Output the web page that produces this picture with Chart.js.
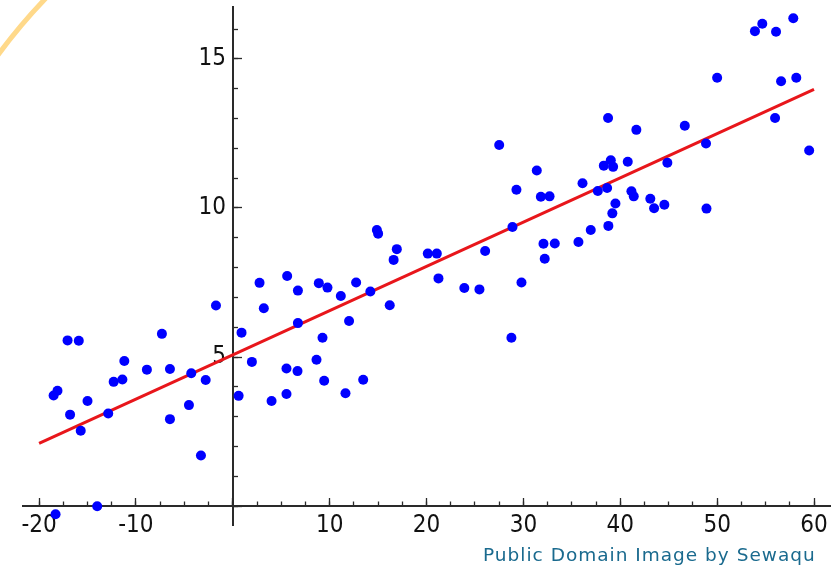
<!DOCTYPE html>
<html>
<head>
<meta charset="utf-8">
<script src="https://cdn.jsdelivr.net/npm/chart.js@4/dist/chart.umd.min.js"></script>
<style>
  body { margin: 0; background: #fff; }
  #wrap { position: relative; width: 833px; height: 569px; overflow: hidden; }
  #credit {
    position: absolute; left: 483px; top: 544px;
    font-family: "DejaVu Sans", sans-serif; font-size: 18.5px; letter-spacing: 1px;
    color: #1a6a8e; white-space: nowrap;
  }
  #deco { position: absolute; left: 0; top: 0; }
</style>
</head>
<body>
<div id="wrap">
  <canvas id="chart" width="833" height="569"></canvas>
  <svg id="deco" width="60" height="60"><path d="M -2 55 Q 20 25 46 -2" stroke="#ffd98a" stroke-width="5" fill="none"/></svg>
  <div id="credit">Public Domain Image by Sewaqu</div>
</div>
<script>
// scatter points
const xs = [-18.5, -18.1, -17.06, -15.9, -16.8, -15.7, -15.0, -18.3, -14.0, -12.86,
  -12.3, -11.4, -11.2, -8.87, -7.32, -6.49, -6.49, -4.53, -4.29, -3.29,
  -2.8, -1.74, 0.6, 0.9, 1.97, 2.76, 3.2, 4.0, 5.54, 5.54,
  5.61, 6.72, 6.72, 6.68, 8.64, 8.88, 9.26, 9.43, 9.77, 11.15,
  11.63, 12.0, 12.73, 13.46, 14.2, 14.87, 15.0, 16.2, 16.6, 16.93,
  20.13, 21.06, 21.23, 23.9, 25.46, 26.05, 27.5, 28.87, 29.28, 29.8,
  28.76, 31.38, 31.8, 32.7, 32.07, 32.2, 33.24, 35.68, 36.1, 36.95,
  37.68, 38.3, 38.74, 38.64, 38.77, 39.02, 39.26, 39.18, 39.5, 40.77,
  41.15, 41.39, 41.66, 43.1, 43.49, 44.55, 44.86, 46.66, 48.85, 48.9,
  50.0, 53.9, 54.66, 56.08, 57.86, 56.6, 58.17, 55.98, 59.5];
const ys = [3.71, 3.87, 5.56, 5.55, 3.07, 2.53, 3.53, -0.27, 0.0, 3.11,
  4.17, 4.25, 4.87, 4.58, 5.78, 4.6, 2.92, 3.39, 4.46, 1.70,
  4.23, 6.73, 3.70, 5.82, 4.84, 7.49, 6.64, 3.53, 3.76, 4.62,
  7.72, 7.23, 6.14, 4.53, 4.91, 7.48, 5.65, 4.21, 7.33, 7.05,
  3.79, 6.21, 7.50, 4.24, 7.20, 9.26, 9.14, 6.74, 8.26, 8.62,
  8.47, 8.47, 7.64, 7.32, 7.27, 8.56, 12.11, 9.36, 10.61, 7.50,
  5.65, 11.26, 10.38, 10.39, 8.80, 8.30, 8.81, 8.86, 10.83, 9.26,
  10.57, 11.42, 13.02, 10.67, 9.40, 11.60, 11.38, 9.82, 10.15, 11.55,
  10.56, 10.39, 12.62, 10.31, 9.99, 10.11, 11.52, 12.76, 12.16, 9.98,
  14.37, 15.93, 16.18, 15.91, 16.36, 14.25, 14.37, 13.02, 11.93];

// fitted line end points
const fitX = [-20, 60];
const fitY = [2.11, 13.98];

const xRange = [-21.66, 61.65];
const yRange = [-0.63, 16.74];

const tickFont = { family: '"DejaVu Sans Condensed", "DejaVu Sans", sans-serif', size: 24 };
const axisColor = "#2a2a2a";

const points = xs.map((x, i) => ({ x: x, y: ys[i] }));
const fitLine = fitX.map((x, i) => ({ x: x, y: fitY[i] }));

// labels may stick out past the ends, don't shrink the plot for them
const noEdgePad = s => { s.paddingLeft = 0; s.paddingRight = 0; s.paddingTop = 0; s.paddingBottom = 0; };

new Chart(document.getElementById("chart"), {
  type: "scatter",
  data: {
    datasets: [
      { data: points, xAxisID: "x", yAxisID: "y", order: 0,
        pointRadius: 5, pointBackgroundColor: "#0000ff", pointBorderWidth: 0, clip: false },
      { type: "line", data: fitLine, xAxisID: "x", yAxisID: "y", order: 1,
        borderColor: "#e8161b", borderWidth: 3, pointRadius: 0, fill: false }
    ]
  },
  options: {
    responsive: false,
    animation: false,
    devicePixelRatio: 1,
    layout: { autoPadding: false, padding: { left: 23, right: 3, top: 7, bottom: 44 } },
    plugins: { legend: { display: false }, tooltip: { enabled: false } },
    scales: {
      x: {
        type: "linear", min: xRange[0], max: xRange[1], position: { y: 0 },
        afterFit: noEdgePad,
        border: { color: axisColor, width: 2 },
        grid: { drawOnChartArea: false, tickLength: -9, tickColor: axisColor, tickWidth: 1.3 },
        ticks: { stepSize: 10, includeBounds: false, padding: 14, color: "#111", font: tickFont,
          callback: v => v === 0 ? "" : v }
      },
      x2: {
        type: "linear", min: xRange[0], max: xRange[1], position: { y: 0 },
        border: { display: false },
        grid: { drawOnChartArea: false, tickLength: -4.5, tickColor: axisColor, tickWidth: 1.3 },
        ticks: { stepSize: 2.5, includeBounds: false, display: false }
      },
      y: {
        type: "linear", min: yRange[0], max: yRange[1], position: { x: 0 },
        afterFit: noEdgePad,
        border: { color: axisColor, width: 2 },
        grid: { drawOnChartArea: false, tickLength: -10, tickColor: axisColor, tickWidth: 1.3 },
        ticks: { stepSize: 5, includeBounds: false, padding: 0, color: "#111", font: tickFont,
          callback: v => v === 0 ? "" : v + " " }
      },
      y2: {
        type: "linear", min: yRange[0], max: yRange[1], position: { x: 0 },
        border: { display: false },
        grid: { drawOnChartArea: false, tickLength: -5, tickColor: axisColor, tickWidth: 1.3 },
        ticks: { stepSize: 1, includeBounds: false, display: false }
      }
    }
  }
});
</script>
</body>
</html>
